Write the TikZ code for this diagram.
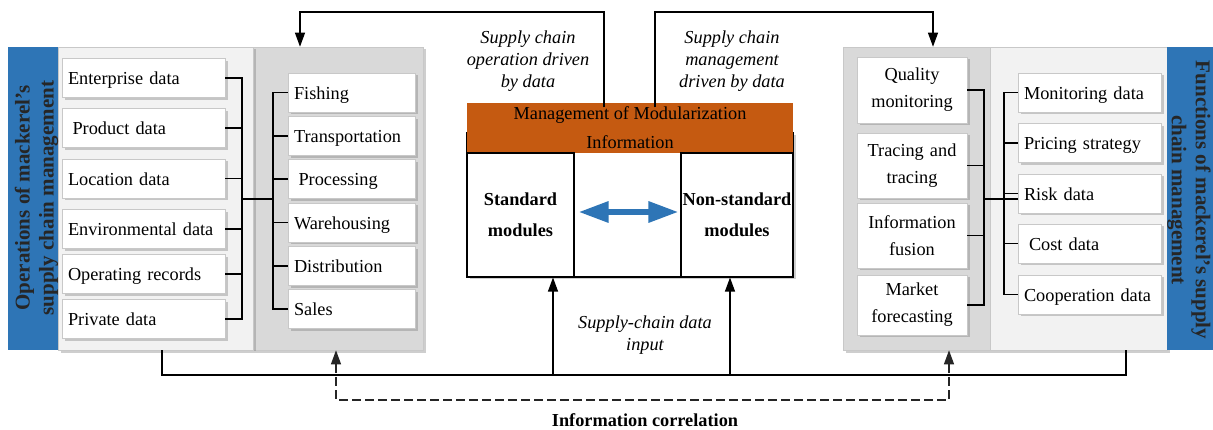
\documentclass[tikz,border=0pt]{standalone}
\usepackage{fontspec}
\setmainfont{Liberation Serif}
\usetikzlibrary{shadows,arrows.meta,calc}
\definecolor{stripblue}{RGB}{46,117,182}
\definecolor{mgmtorange}{RGB}{197,90,17}
\definecolor{panellight}{RGB}{242,242,242}
\definecolor{paneldark}{RGB}{217,217,217}
\definecolor{boxedge}{RGB}{200,200,200}
\begin{document}
\begin{tikzpicture}[x=1pt,y=-1pt,line width=1.1pt,
  sh/.style={drop shadow={shadow xshift=2.5pt,shadow yshift=-2.5pt,opacity=0.35,fill=black!55}},
  panel/.style={draw=boxedge,line width=0.6pt,inner sep=0pt,sh},
  txt/.style={font=\fontsize{18.3}{22}\selectfont},
  databox/.style={draw=boxedge,line width=0.8pt,fill=white,sh,inner xsep=6pt,inner ysep=0pt,
    minimum height=39pt,text height=14pt,text depth=0pt,align=left,txt},
  ldata/.style={databox,text width=151pt},
  pdata/.style={databox,text width=115pt},
  rdata/.style={databox,text width=131pt},
  fbox/.style={draw=boxedge,line width=0.8pt,fill=white,sh,inner sep=0pt,
    text width=110pt,align=center,font=\fontsize{18.3}{27}\selectfont},
  modbox/.style={draw=black,line width=1.1pt,fill=white,inner sep=0pt,minimum height=124pt,
    align=center,font=\fontsize{18.3}{31}\selectfont\bfseries},
  title/.style={align=center,text=black!85,font=\fontsize{21}{24}\selectfont\bfseries},
  note/.style={align=center,font=\fontsize{18.3}{22}\selectfont\itshape},
  arr/.style={-{Triangle[length=14pt,width=10pt]}},
  link/.style={line width=1.1pt,line cap=rect}
]
\useasboundingbox (0,0) rectangle (1213,430);
\fill[white] (0,0) rectangle (1213,430);

% ---- left panel: operations ----
\node[panel,fill=paneldark,minimum width=170pt,minimum height=303pt] (ldark) at (338,198.5) {};
\node[panel,fill=panellight,minimum width=195pt,minimum height=303pt] (llight) at (155.5,198.5) {};
\node[fill=stripblue,inner sep=0pt,minimum width=50pt,minimum height=303pt] (lstrip) at (33,198.5) {};
\node[title,rotate=90] (ltitle) at (36.5,198) {Operations of mackerel’s\\supply chain management};

\node[ldata] (ent)  at (143.5,78)    {Enterprise data};
\node[ldata] (prod) at (143.5,128)   {\hspace*{4.5pt}Product data};
\node[ldata] (loc)  at (143.5,178.5) {Location data};
\node[ldata] (env)  at (143.5,229)   {Environmental data};
\node[ldata] (oper) at (143.5,274)   {Operating records};
\node[ldata] (priv) at (143.5,319)   {Private data};

\node[pdata] (fish)  at (351.5,92.5)  {Fishing};
\node[pdata] (trans) at (351.5,136)   {Transportation};
\node[pdata] (proc)  at (351.5,179)   {\hspace*{4.5pt}Processing};
\node[pdata] (ware)  at (351.5,222.5) {Warehousing};
\node[pdata] (dist)  at (351.5,266)   {Distribution};
\node[pdata] (sales) at (351.5,309)   {Sales};

\coordinate (lbx) at (242,0);
\coordinate (rbx) at (273,0);
\coordinate (lmid) at (242,199);
\foreach \n in {ent,prod,loc,env,oper,priv} \draw[link] (\n.east) -- (\n.east -| lbx);
\draw[link] (ent.east -| lbx) -- (priv.east -| lbx);
\draw[link] (lmid) -- (lmid -| rbx);
\draw[link] (fish.west -| rbx) -- (sales.west -| rbx);
\foreach \n in {fish,trans,proc,ware,dist,sales} \draw[link] (\n.west) -- (\n.west -| rbx);

% ---- right panel: functions ----
\node[panel,fill=paneldark,minimum width=147pt,minimum height=303pt] (rdark) at (916.5,198.5) {};
\node[panel,fill=panellight,minimum width=177pt,minimum height=303pt] (rlight) at (1078.5,198.5) {};
\node[fill=stripblue,inner sep=0pt,minimum width=53pt,minimum height=303pt] (rstrip) at (1193.5,198.5) {};
\node[title,rotate=-90] (rtitle) at (1189,200) {Functions of mackerel’s supply\\chain management};

\node[fbox,minimum height=66pt] (qual) at (912,90)    {Quality\\monitoring};
\node[fbox,minimum height=65pt] (trac) at (912,165.5) {Tracing and\\tracing};
\node[fbox,minimum height=65pt] (info) at (912,235.5) {Information\\fusion};
\node[fbox,minimum height=60pt] (mark) at (912,305)   {Market\\forecasting};

\node[rdata] (mon)   at (1089.5,92.5)  {Monitoring data};
\node[rdata] (price) at (1089.5,143)   {Pricing strategy};
\node[rdata] (risk)  at (1089.5,193.5) {Risk data};
\node[rdata] (cost)  at (1089.5,243.5) {\hspace*{5pt}Cost data};
\node[rdata] (coop)  at (1089.5,294.5) {Cooperation data};

\coordinate (qbx) at (984,0);
\coordinate (dbx) at (1004,0);
\coordinate (rmid) at (984,199);
\foreach \n in {qual,trac,info,mark} \draw[link] (\n.east) -- (\n.east -| qbx);
\draw[link] (qual.east -| qbx) -- (mark.east -| qbx);
\draw[link] (rmid) -- (rmid -| risk.west);
\draw[link] (mon.west -| dbx) -- (coop.west -| dbx);
\foreach \n in {mon,price,risk,cost,coop} \draw[link] (\n.west) -- (\n.west -| dbx);

% ---- modularization block ----
\node[draw=black,line width=1.1pt,fill=white,sh,inner sep=0pt,minimum width=326pt,minimum height=144pt] (frame) at (630,205) {};
\node[fill=mgmtorange,inner sep=0pt,minimum width=326pt,minimum height=50pt,align=center,
  font=\fontsize{18.3}{29}\selectfont] (mgmt) at (630,128) {Management of Modularization\\Information};
\node[modbox,minimum width=107pt] (std) at (520.5,215) {Standard\\modules};
\node[modbox,minimum width=112pt] (nonstd) at (737,215) {Non-standard\\modules};
\coordinate (ba) at (628,212);
\draw[stripblue,line width=6pt,
  {Triangle[length=30pt,width=20pt]}-{Triangle[length=30pt,width=20pt]},
  shorten <=4pt,shorten >=2pt] (std.east |- ba) -- (nonstd.west |- ba);

% ---- data-driven links at the top ----
\coordinate (tl) at (604,12);
\coordinate (tr) at (655,12);
\coordinate (al) at (300,12);
\coordinate (ar) at (933,12);
\draw[arr] ([yshift=-5pt]mgmt.north -| tl) -- (tl) -- (al) -- (ldark.north -| al);
\draw[arr] ([yshift=-5pt]mgmt.north -| tr) -- (tr) -- (ar) -- (rdark.north -| ar);
\node[note] (opnote) at (528,61) {Supply chain\\operation driven\\by data};
\node[note] (mgnote) at (732,61) {Supply chain\\management\\driven by data};

% ---- data input bus at the bottom ----
\coordinate (bl) at (162,375);
\coordinate (br) at (1126,375);
\coordinate (ua) at (553,375);
\coordinate (ub) at (730,375);
\draw (llight.south -| bl) -- (bl) -- (br) -- (rlight.south -| br);
\draw[arr] (ua) -- (std.south -| ua);
\draw[arr] (ub) -- (nonstd.south -| ub);
\node[note] (innote) at (645,335) {Supply-chain data\\input};

% ---- information correlation ----
\coordinate (dl) at (336,400);
\coordinate (dr) at (949,400);
\draw[black!85,dash pattern=on 9pt off 4pt,
  {Triangle[length=14pt,width=10pt]}-{Triangle[length=14pt,width=10pt]}]
  (ldark.south -| dl) -- (dl) -- (dr) -- (rdark.south -| dr);
\node[font=\fontsize{18.3}{22}\selectfont\bfseries] (corr) at (645,420) {Information correlation};
\end{tikzpicture}
\end{document}
